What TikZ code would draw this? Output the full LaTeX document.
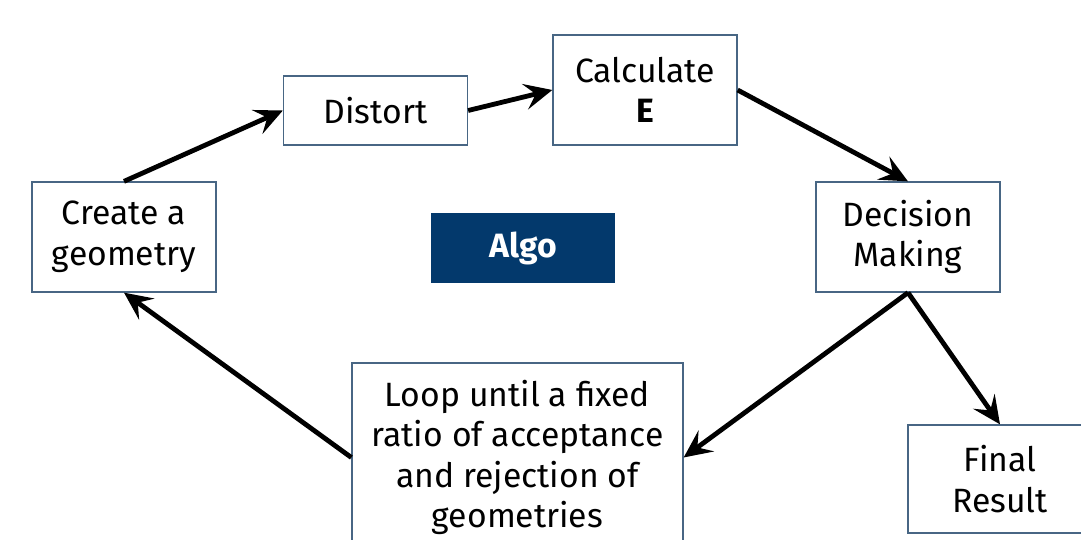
\documentclass[tikz,border=0pt]{standalone}
\usepackage{fontspec}
\setmainfont{Fira Sans}
\usetikzlibrary{arrows.meta}
\definecolor{boxline}{RGB}{72,102,132}
\definecolor{algofill}{RGB}{3,57,108}
\begin{document}
\begin{tikzpicture}[x=1pt,y=-1pt,
  stepbox/.style={draw=boxline,line width=1.3pt,fill=white,align=center,inner sep=0pt,
    minimum width=184pt,minimum height=110pt,font=\fontsize{33.7}{40.5}\selectfont},
  conn/.style={line width=4.8pt,-{Stealth[length=28pt,width=26pt,inset=11pt]}}]
\useasboundingbox (0,0) rectangle (1081,539);
\clip (0,0) rectangle (1081,539);
\fill[white] (0,0) rectangle (1081,539);
\node[stepbox] (create) at (124,237) {Create a\\geometry};
\node[stepbox,minimum height=69pt] (distort) at (375.5,110.5) {Distort};
\node[stepbox] (calc) at (645,90) {Calculate\\\textbf{E}};
\node[stepbox] (decide) at (908,237) {Decision\\Making};
\node[fill=algofill,minimum width=184pt,minimum height=70pt,inner sep=0pt,
  text=white,font=\fontsize{33.7}{40.5}\selectfont\bfseries] (algo) at (523,248) {Algo};
\node[stepbox,minimum width=331pt,minimum height=189pt] (loop) at (517.5,457.5)
  {Loop until a fixed\\ratio of acceptance\\and rejection of\\geometries};
\node[stepbox,minimum height=108pt] (final) at (1000,479) {Final\\Result};
\draw[conn] (create.north) -- (distort.west);
\draw[conn] (distort.east) -- (calc.west);
\draw[conn] (calc.east) -- (decide.north);
\draw[conn] (decide.south) -- (loop.east);
\draw[conn] (decide.south) -- (final.north);
\draw[conn] (loop.west) -- (create.south);
\end{tikzpicture}
\end{document}
